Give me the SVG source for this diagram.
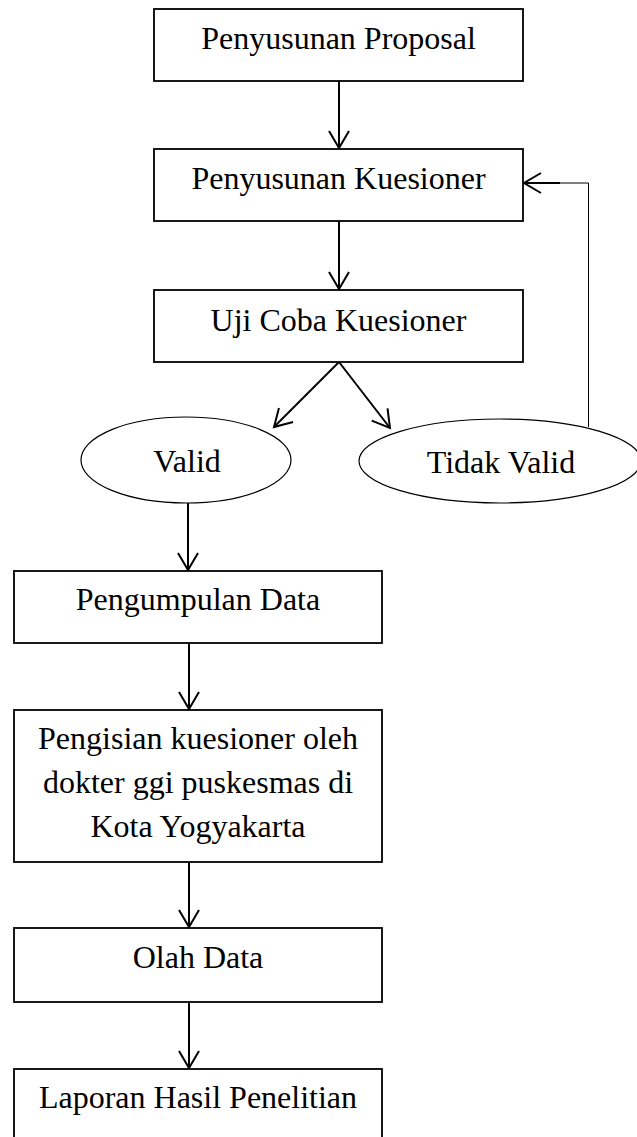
<svg xmlns="http://www.w3.org/2000/svg" width="637" height="1137" viewBox="0 0 637 1137">
<defs>
<style>
.box{fill:#fff;stroke:#000;stroke-width:1.8}
.ell{fill:#fff;stroke:#000;stroke-width:1.2}
.t{font-family:"Liberation Serif","Times New Roman",serif;font-size:32px;fill:#000;text-anchor:middle}
.c{fill:none;stroke:#000;stroke-width:2}
.thin{fill:none;stroke:#000;stroke-width:1}
</style>
<marker id="ah" markerUnits="userSpaceOnUse" markerWidth="24" markerHeight="24" viewBox="-20 -12 24 24" refX="0" refY="0" orient="auto">
<path d="M-17,-10 L0,0 L-17,10" fill="none" stroke="#000" stroke-width="2"/>
</marker>
</defs>
<rect width="637" height="1137" fill="#fff"/>
<g id="connectors">
<line class="c" x1="339" y1="81" x2="339" y2="148" marker-end="url(#ah)"/>
<line class="c" x1="339" y1="221" x2="339" y2="289" marker-end="url(#ah)"/>
<line class="c" x1="339" y1="362" x2="274" y2="427" marker-end="url(#ah)"/>
<line class="c" x1="339" y1="362" x2="390" y2="428" marker-end="url(#ah)"/>
<polyline class="thin" points="588.5,427 588.5,183 550,183"/>
<line class="c" x1="560" y1="183" x2="524" y2="183" marker-end="url(#ah)"/>
<line class="c" x1="188" y1="503" x2="188" y2="570" marker-end="url(#ah)"/>
<line class="c" x1="189" y1="643" x2="189" y2="709" marker-end="url(#ah)"/>
<line class="c" x1="189" y1="862" x2="189" y2="927" marker-end="url(#ah)"/>
<line class="c" x1="189" y1="1002" x2="189" y2="1068" marker-end="url(#ah)"/>
</g>
<g id="n1"><rect class="box" x="154" y="9" width="369" height="72"/><text class="t" x="338.5" y="49">Penyusunan Proposal</text></g>
<g id="n2"><rect class="box" x="154" y="149" width="369" height="72"/><text class="t" x="338.5" y="189">Penyusunan Kuesioner</text></g>
<g id="n3"><rect class="box" x="154" y="290" width="369" height="72"/><text class="t" x="338.5" y="331">Uji Coba Kuesioner</text></g>
<g id="n4"><ellipse class="ell" cx="186" cy="460" rx="105" ry="43"/><text class="t" x="187" y="472">Valid</text></g>
<g id="n5"><ellipse class="ell" cx="500" cy="461" rx="141" ry="42"/><text class="t" x="501" y="473">Tidak Valid</text></g>
<g id="n6"><rect class="box" x="14" y="571" width="368" height="72"/><text class="t" x="198" y="610">Pengumpulan Data</text></g>
<g id="n7"><rect class="box" x="14" y="710" width="368" height="152"/><text class="t" x="198" y="749">Pengisian kuesioner oleh</text><text class="t" x="198" y="793">dokter ggi puskesmas di</text><text class="t" x="198" y="837">Kota Yogyakarta</text></g>
<g id="n8"><rect class="box" x="14" y="928" width="368" height="74"/><text class="t" x="198" y="968">Olah Data</text></g>
<g id="n9"><rect class="box" x="14" y="1069" width="368" height="80"/><text class="t" x="198" y="1108">Laporan Hasil Penelitian</text></g>
</svg>
